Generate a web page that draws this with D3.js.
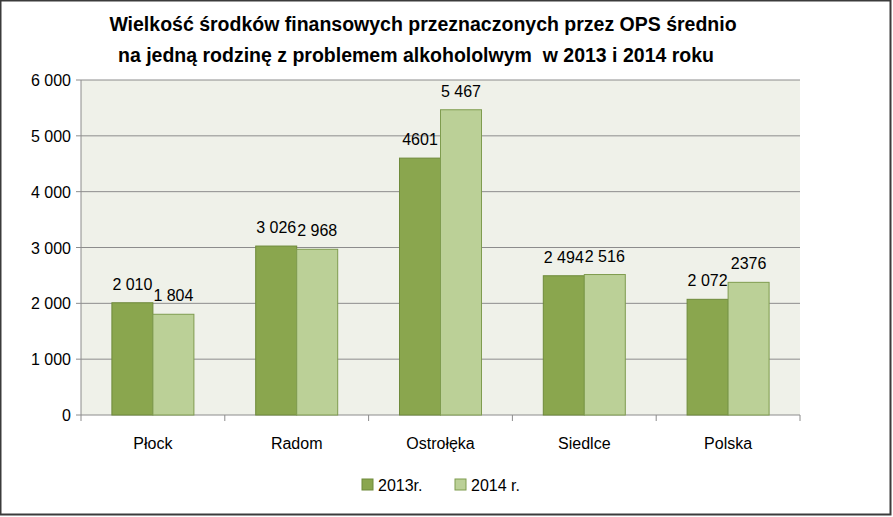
<!DOCTYPE html><html><head><meta charset="utf-8"><script src="https://cdn.jsdelivr.net/npm/d3@7"></script>
<style>body{margin:0;background:#fff}svg{display:block}</style></head><body><svg id="c" width="893" height="517"></svg><script>
const categories=["Płock","Radom","Ostrołęka","Siedlce","Polska"];
const series=["2013r.","2014 r."];
const values2013=[2010,3026,4601,2494,2072];
const values2014=[1804,2968,5467,2516,2376];
const labels2013=["2 010","3 026","4601","2 494","2 072"];
const labels2014=["1 804","2 968","5 467","2 516","2376"];
const yTicks=[0,1000,2000,3000,4000,5000,6000];
const colors=["#8aa64e","#bbd097"],strokes=["#6e8a3a","#7f9c4f"];
const svg=d3.select("#c");const F="'Liberation Sans', Arial, sans-serif";
svg.append("rect").attr("x",0.5).attr("y",0.5).attr("width",890).attr("height",514).attr("fill","#fff").attr("stroke","#3b3b3b").attr("stroke-width",2);
const L=81,R=800,T=80,B=415;
const x=d3.scaleBand().domain(categories).range([L,R]);
const y=d3.scaleLinear().domain([0,6000]).range([B,T]);
svg.append("rect").attr("x",L).attr("y",T).attr("width",R-L).attr("height",B-T).attr("fill","#eff1e9");
svg.append("g").selectAll("line").data(yTicks.slice(1)).join("line").attr("x1",L).attr("x2",R).attr("y1",d=>y(d)).attr("y2",d=>y(d)).attr("stroke","#8c8c8c");
const fmt=d=>d3.format(",")(d).replace(/,/g," ");
svg.append("g").selectAll("text").data(yTicks).join("text").attr("x",L-10).attr("y",d=>y(d)+6).attr("text-anchor","end").attr("font-family",F).attr("font-size",16).text(fmt);
svg.append("line").attr("x1",L).attr("x2",L).attr("y1",T).attr("y2",B).attr("stroke","#8c8c8c");
svg.append("line").attr("x1",L).attr("x2",R).attr("y1",B).attr("y2",B).attr("stroke","#8c8c8c");
svg.append("g").selectAll("line").data(d3.range(6)).join("line").attr("x1",i=>L+i*x.step()).attr("x2",i=>L+i*x.step()).attr("y1",B).attr("y2",B+6).attr("stroke","#8c8c8c");
svg.append("g").selectAll("line").data(d3.range(7)).join("line").attr("x1",L-5).attr("x2",L).attr("y1",i=>y(i*1000)).attr("y2",i=>y(i*1000)).attr("stroke","#8c8c8c");
svg.append("g").selectAll("text").data(categories).join("text").attr("x",d=>x(d)+x.bandwidth()/2).attr("y",B+34).attr("text-anchor","middle").attr("font-family",F).attr("font-size",16).text(d=>d);
const bw=41;
[values2013,values2014].forEach((vals,s)=>{
 const lab=s?labels2014:labels2013;
 categories.forEach((c,i)=>{
  const cx=x(c)+x.bandwidth()/2, bx=cx+(s?0:-bw);
  svg.append("rect").attr("x",bx).attr("y",y(vals[i])).attr("width",bw).attr("height",B-y(vals[i])).attr("fill",colors[s]).attr("stroke",strokes[s]);
  svg.append("text").attr("x",bx+bw/2).attr("y",y(vals[i])-13).attr("text-anchor","middle").attr("font-family",F).attr("font-size",16).text(lab[i]);
 });
});
svg.append("text").attr("x",423).attr("y",31).attr("text-anchor","middle").attr("font-family",F).attr("font-size",19.5).attr("font-weight","bold").text("Wielkość środków finansowych przeznaczonych przez OPS średnio");
svg.append("text").attr("x",416).attr("y",62).attr("text-anchor","middle").attr("font-family",F).attr("font-size",19.5).attr("font-weight","bold").attr("xml:space","preserve").text("na jedną rodzinę z problemem alkohololwym  w 2013 i 2014 roku");
const lx=[362,455];
series.forEach((s,i)=>{
 svg.append("rect").attr("x",lx[i]).attr("y",479).attr("width",11).attr("height",11).attr("fill",colors[i]).attr("stroke",strokes[i]);
 svg.append("text").attr("x",lx[i]+16).attr("y",491).attr("font-family",F).attr("font-size",16).text(s);
});
</script></body></html>
